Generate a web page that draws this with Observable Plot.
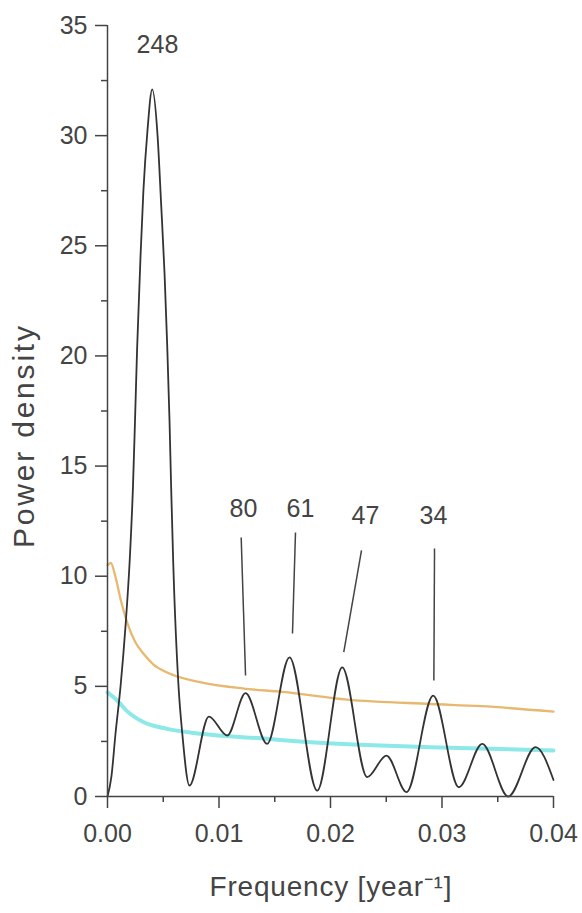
<!DOCTYPE html>
<html><head><meta charset="utf-8">
<script src="https://cdn.jsdelivr.net/npm/d3@7"></script>
<script src="https://cdn.jsdelivr.net/npm/@observablehq/plot@0.6"></script>
<style>body{margin:0;background:#fff} svg{display:block}</style>
</head><body><div id="chart"></div>
<script>
// Periodogram (black curve)
const freq  = [0, 0.00035, 0.00072, 0.00117, 0.00161, 0.00199, 0.00228, 0.00247, 0.00266, 0.00296, 0.00322, 0.00358, 0.00401,
               0.00449, 0.00481, 0.00512, 0.00536, 0.00556, 0.00571, 0.00589, 0.00637, 0.0067, 0.00735,
               0.00909, 0.01074, 0.01238, 0.01432, 0.01632, 0.01881, 0.02105, 0.02329, 0.02502, 0.02682,
               0.02921, 0.03151, 0.03361, 0.03594, 0.03839, 0.04];
const power = [0, 0.9, 2.86, 5.0, 7.7, 10.7, 14.0, 17.1, 20.4, 24.5, 27.5, 30.2, 32.1,
               30.0, 26.9, 23.7, 20.4, 17.1, 14.0, 10.7, 5.0, 2.9, 0.5,
               3.63, 2.77, 4.69, 2.39, 6.32, 0.27, 5.86, 0.88, 1.86, 0.2,
               4.58, 0.42, 2.39, 0.0, 2.24, 0.75];
// Upper confidence curve (orange)
const orangeFreq = [0, 0.0003, 0.0007, 0.0012, 0.0018, 0.0025, 0.0032, 0.0041, 0.0053, 0.0083, 0.0122, 0.0157, 0.0215, 0.029, 0.0335, 0.04];
const orangeVals = [10.5, 10.6, 10.0, 8.9, 7.85, 7.0, 6.5, 6.0, 5.64, 5.19, 4.9, 4.75, 4.4, 4.2, 4.1, 3.85];
// Lower confidence curve (cyan)
const cyanFreq = [0, 0.00087, 0.0017, 0.00326, 0.00535, 0.00834, 0.0143, 0.0155, 0.0245, 0.029, 0.04];
const cyanVals = [4.73, 4.36, 3.9, 3.37, 3.07, 2.85, 2.62, 2.57, 2.31, 2.24, 2.09];
// Peak annotations (period in years)
const peakLabels = ["248", "80", "61", "47", "34"];
const labelFreq  = [0.00448, 0.0122, 0.01731, 0.02314, 0.02924];
const labelPower = [34.1, 13.07, 13.07, 12.75, 12.75];
// Leader lines
const leaderX1 = [0.01199, 0.01686, 0.02278, 0.02933];
const leaderY1 = [11.76, 11.98, 11.17, 11.26];
const leaderX2 = [0.01238, 0.01659, 0.02119, 0.02927];
const leaderY2 = [5.49, 7.4, 6.55, 5.27];
// Ticks
const yTicks = [0, 5, 10, 15, 20, 25, 30, 35];
const yMinor = [2.5, 7.5, 12.5, 17.5, 22.5, 27.5, 32.5];
const xTicks = [0, 0.01, 0.02, 0.03, 0.04];
const xMinor = [0.005, 0.015, 0.025, 0.035];
const xTitle = "Frequency [year⁻¹]";
const yTitle = "Power density";

const black = freq.map((f, i) => ({f, v: power[i]}));
const orange = orangeFreq.map((f, i) => ({f, v: orangeVals[i]}));
const cyan = cyanFreq.map((f, i) => ({f, v: cyanVals[i]}));
const labels = peakLabels.map((t, i) => ({t, f: labelFreq[i], v: labelPower[i]}));
const leaders = leaderX1.map((x1, i) => ({x1, y1: leaderY1[i], x2: leaderX2[i], y2: leaderY2[i]}));

const ink = "#444";
const chart = Plot.plot({
  width: 582, height: 913,
  marginLeft: 107, marginRight: 29, marginTop: 25, marginBottom: 117,
  style: {fontFamily: "'Liberation Sans', Arial, sans-serif", background: "#fff", color: ink},
  x: {domain: [0, 0.04]},
  y: {domain: [0, 35]},
  marks: [
    Plot.line(cyan, {x: "f", y: "v", stroke: "#8de8e8", strokeWidth: 4, curve: "monotone-x"}),
    Plot.line(orange, {x: "f", y: "v", stroke: "#e8b870", strokeWidth: 2.3, curve: "monotone-x"}),
    Plot.line(black, {x: "f", y: "v", stroke: "#333", strokeWidth: 1.8, curve: "monotone-x"}),
    Plot.link(leaders, {x1: "x1", y1: "y1", x2: "x2", y2: "y2", stroke: ink, strokeWidth: 1.5}),
    Plot.text(labels, {x: "f", y: "v", text: "t", fontSize: 25, fill: ink}),
    Plot.axisY({ticks: yTicks, tickSize: 12, tickPadding: 8, fontSize: 25, label: null, stroke: ink, strokeWidth: 1.5, tickFormat: d => String(d)}),
    Plot.axisY({ticks: yMinor, tickSize: 6, label: null, stroke: ink, strokeWidth: 1.5, tickFormat: () => ""}),
    Plot.axisX({ticks: xTicks, tickSize: 12, tickPadding: 16, fontSize: 25, label: null, stroke: ink, strokeWidth: 1.5, tickFormat: d3.format(".2f")}),
    Plot.axisX({ticks: xMinor, tickSize: 6, label: null, stroke: ink, strokeWidth: 1.5, tickFormat: () => ""}),
    Plot.ruleX([0], {stroke: ink, strokeWidth: 1.5}),
    Plot.ruleY([0], {stroke: ink, strokeWidth: 1.5}),
    Plot.text([xTitle], {text: d => d, frameAnchor: "bottom", textAnchor: "middle", dy: 99, fontSize: 28, fill: ink}),
    Plot.text([yTitle], {text: d => d, frameAnchor: "left", textAnchor: "middle", rotate: -90, dx: -83, dy: 26, fontSize: 30, fill: ink})
  ]
});
// stretch the axis titles to the widths seen in the reference
d3.select(chart).selectAll("text").each(function() {
  const t = this.textContent;
  if (t === xTitle) d3.select(this).attr("textLength", 242).attr("lengthAdjust", "spacing");
  if (t === yTitle) d3.select(this).attr("textLength", 222).attr("lengthAdjust", "spacing");
});
document.getElementById("chart").appendChild(chart);
</script>
</body></html>
